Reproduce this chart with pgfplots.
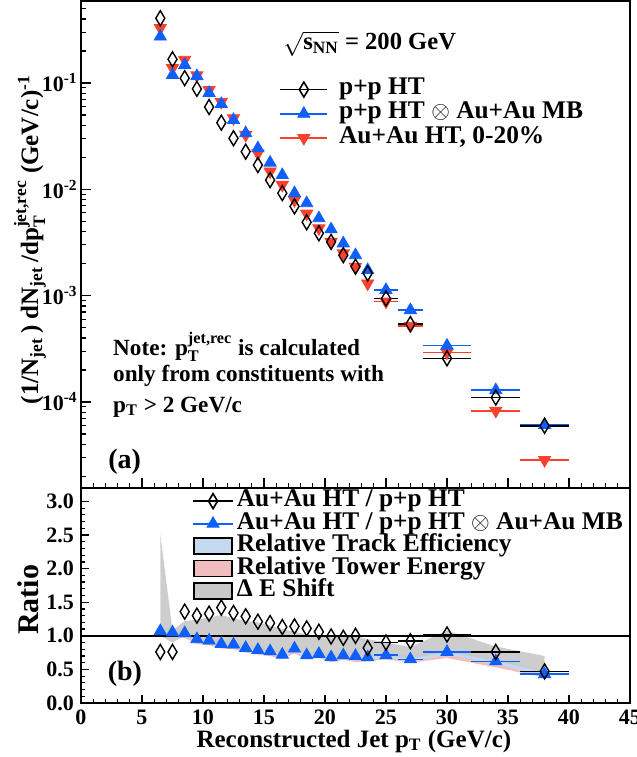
\documentclass[border=0pt]{standalone}
\usepackage{pgfplots}
\pgfplotsset{compat=1.18}
\usepackage{pgfplotstable}
\usepackage{amsmath}
\usepackage{fontspec}
\setmainfont{Liberation Serif}
\definecolor{myblue}{RGB}{15,95,250}
\definecolor{myred}{RGB}{250,65,45}
\definecolor{bandblue}{RGB}{196,216,240}
\definecolor{bandpink}{RGB}{240,190,190}
\definecolor{bandgray}{RGB}{200,200,200}

\pgfplotstableread{
x ex pp ppmb auau
6.5 0 0.406 0.273 0.329
7.5 0 0.167 0.119 0.138
8.5 0 0.111 0.148 0.165
9.5 0 0.088 0.116 0.118
10.5 0 0.0594 0.0805 0.0859
11.5 0 0.0423 0.0634 0.0663
12.5 0 0.0302 0.0449 0.0466
13.5 0 0.0226 0.0337 0.0325
14.5 0 0.0169 0.0243 0.0218
15.5 0 0.0122 0.0178 0.0147
16.5 0 0.0092 0.0136 0.0110
17.5 0 0.0069 0.0092 0.0079
18.5 0 0.0049 0.0074 0.0059
19.5 0 0.00386 0.00534 0.0043
20.5 0 0.0032 0.0042 0.0032
21.5 0 0.0024 0.0031 0.0025
22.5 0 0.00187 0.0024 0.00187
23.5 0 0.00162 0.00174 0.0013
25 1 0.00094 0.00113 0.00088
27 1 0.00054 0.00073 0.00052
30 2 0.000257 0.000338 0.000292
34 2 0.00011 0.000129 0.0000826
38 2 0.0000597 0.0000607 0.0000284
}\spec

\pgfplotstableread{
x ex rpp rmb
6.5 0 0.76 1.07
7.5 0 0.76 1.05
8.5 0 1.36 1.04
9.5 0 1.30 0.95
10.5 0 1.33 0.93
11.5 0 1.42 0.88
12.5 0 1.34 0.87
13.5 0 1.29 0.82
14.5 0 1.21 0.79
15.5 0 1.19 0.77
16.5 0 1.13 0.72
17.5 0 1.14 0.81
18.5 0 1.11 0.71
19.5 0 1.06 0.73
20.5 0 0.99 0.68
21.5 0 0.97 0.71
22.5 0 1.00 0.70
23.5 0 0.82 0.68
25 1 0.90 0.71
27 1 0.92 0.65
30 2 1.02 0.76
34 2 0.76 0.62
38 2 0.47 0.43
}\ratio

\begin{document}
\begin{tikzpicture}
\pgfplotsset{
  every axis/.append style={
    scale only axis, width=274.5pt,
    axis line style={line width=0.8pt},
    every tick/.style={line width=0.6pt, black},
    tick align=inside,
    ticklabel style={font=\bfseries\fontsize{11}{11}\selectfont},
    /pgf/number format/assume math mode=true,
    xmin=0, xmax=45,
    xtick={0,5,...,45}, minor x tick num=4,
    xtick pos=bottom, ytick pos=left,
    clip=false,
  },
  lineleg/.style={legend image code/.code={
      \draw[##1,line width=0.8pt] (0pt,0pt) -- (23.5pt,0pt);
      \draw[##1] plot coordinates {(11.75pt,0pt)};}},
  lineleg2/.style={legend image code/.code={
      \draw[##1,line width=0.8pt] (0pt,0pt) -- (20pt,0pt);
      \draw[##1] plot coordinates {(10pt,0pt)};}},
  boxleg/.style={legend image code/.code={
      \draw[##1,draw=black,line width=0.9pt] (0.3pt,-3.8pt) rectangle (19.5pt,4.2pt);}},
}
\path[use as bounding box] (-40.5pt,-27pt) rectangle (278pt,351.5pt);

% ---------------- top panel ----------------
\begin{axis}[at={(0pt,107.5pt)}, anchor=south west, height=243.5pt,
  ymode=log, ymin=1.55e-5, ymax=0.59,
  xticklabels={},
  major tick length=5pt, minor tick length=2.6pt,
  ytick={1e-4,1e-3,1e-2,1e-1},
  yticklabels={10\textsuperscript{-4},10\textsuperscript{-3},10\textsuperscript{-2},10\textsuperscript{-1}},
  yticklabel style={inner xsep=1.5pt},
  minor ytick={2e-5,3e-5,4e-5,5e-5,6e-5,7e-5,8e-5,9e-5,2e-4,3e-4,4e-4,5e-4,6e-4,7e-4,8e-4,9e-4,2e-3,3e-3,4e-3,5e-3,6e-3,7e-3,8e-3,9e-3,2e-2,3e-2,4e-2,5e-2,6e-2,7e-2,8e-2,9e-2,2e-1,3e-1,4e-1,5e-1},
  ylabel={\bfseries\fontsize{12.5}{12.5}\selectfont (1/N$_{\text{jet}}$\,) dN$_{\text{jet}}$\,/dp$_{\text{T}}^{\text{jet,rec}}$ (GeV/c)$^{\text{-1}}$},
  ylabel style={at={(axis description cs:-0.093,0.51)}, anchor=center},
  legend style={at={(rel axis cs:0.350,0.852)}, anchor=north west, draw=none, fill=none,
    font=\bfseries\fontsize{12.7}{12.7}\selectfont, legend cell align=left,
    nodes={inner xsep=2pt, inner ysep=0pt, text height=8.6pt, text depth=3.5pt},
    /tikz/every odd column/.style={column sep=3.5pt}},
]
\addlegendimage{lineleg, black, mark=diamond, mark size=3.75pt, mark options={xscale=0.8, line width=0.8pt}}
\addlegendentry{p+p HT}
\addlegendimage{lineleg, myblue, mark=triangle*, mark size=3.5pt}
\addlegendentry{p+p HT $\otimes$ Au+Au MB}
\addlegendimage{lineleg, myred, mark=triangle*, mark size=3.5pt, mark options={rotate=180}}
\addlegendentry{Au+Au HT, 0-20\%}

\addplot[only marks, myred, mark=triangle*, mark size=3.5pt, mark options={rotate=180},
  error bars/.cd, x dir=both, x explicit, error mark=none, error bar style={line width=0.8pt}]
  table[x=x, y=auau, x error=ex] {\spec};
\addplot[only marks, myblue, mark=triangle*, mark size=3.5pt,
  error bars/.cd, x dir=both, x explicit, error mark=none, error bar style={line width=0.8pt}]
  table[x=x, y=ppmb, x error=ex] {\spec};
\addplot[only marks, black, mark=diamond, mark size=3.75pt, mark options={xscale=0.8, line width=0.7pt},
  error bars/.cd, x dir=both, x explicit, error mark=none, error bar style={line width=0.8pt}]
  table[x=x, y=pp, x error=ex] {\spec};

\node[anchor=west, inner sep=0pt, font=\bfseries\fontsize{12.3}{12.3}\selectfont] at (rel axis cs:0.368,0.912)
  {$\sqrt{\text{s}_{\text{NN}}}$ = 200 GeV};
\node[anchor=west, inner sep=0pt, font=\bfseries\fontsize{11.6}{11.6}\selectfont] at (rel axis cs:0.058,0.290)
  {Note: p$_{\text{T}}^{\text{jet,rec}}$ is calculated};
\node[anchor=west, inner sep=0pt, font=\bfseries\fontsize{11.6}{11.6}\selectfont] at (rel axis cs:0.058,0.230)
  {only from constituents with};
\node[anchor=west, inner sep=0pt, font=\bfseries\fontsize{11.6}{11.6}\selectfont] at (rel axis cs:0.058,0.166)
  {p$_{\text{T}}$ > 2 GeV/c};
\node[anchor=west, inner sep=0pt, font=\bfseries\fontsize{14}{14}\selectfont] at (rel axis cs:0.049,0.054) {(a)};
\end{axis}

% ---------------- bottom panel ----------------
\begin{axis}[at={(0pt,0pt)}, anchor=south west, height=107.5pt,
  ymin=0, ymax=3.2,
  ytick={0,0.5,...,3.0}, minor y tick num=4,
  major tick length=4pt, minor tick length=2pt,
  yticklabel style={/pgf/number format/.cd, fixed, fixed zerofill, precision=1},
  xlabel={\bfseries\fontsize{12.5}{12.5}\selectfont Reconstructed Jet p$_{\text{T}}$ (GeV/c)},
  xlabel style={at={(axis description cs:0.497,0)}, yshift=-19pt, anchor=center, inner sep=0pt},
  ylabel={\bfseries\fontsize{15}{15}\selectfont Ratio},
  ylabel style={at={(axis description cs:-0.0965,0.48)}, anchor=center},
  legend style={at={(rel axis cs:0.191,1.012)}, anchor=north west, draw=none, fill=none,
    font=\bfseries\fontsize{12.7}{12.7}\selectfont, legend cell align=left,
    nodes={inner xsep=1.5pt, inner ysep=0pt, text height=8.3pt, text depth=3pt},
    /tikz/every odd column/.style={column sep=0pt}},
]
\addlegendimage{lineleg2, black, mark=diamond, mark size=3.75pt, mark options={xscale=0.8, line width=0.8pt}}
\addlegendentry{Au+Au HT / p+p HT}
\addlegendimage{lineleg2, myblue, mark=triangle*, mark size=3.5pt}
\addlegendentry{Au+Au HT / p+p HT $\otimes$ Au+Au MB}
\addlegendimage{boxleg, fill=bandblue}
\addlegendentry{Relative Track Efficiency}
\addlegendimage{boxleg, fill=bandpink}
\addlegendentry{Relative Tower Energy}
\addlegendimage{boxleg, fill=bandgray}
\addlegendentry{Δ E Shift}

% tower energy band
\addplot[forget plot, draw=none, fill=bandpink] coordinates {
(6.5,1.08) (7.5,1.06) (8.5,1.05) (9.5,0.96) (10.5,0.94) (11.5,0.89) (12.5,0.88) (13.5,0.83)
(14.5,0.80) (15.5,0.78) (16.5,0.73) (17.5,0.82) (18.5,0.72) (19.5,0.74) (20.5,0.69) (21.5,0.72)
(22.5,0.71) (23.5,0.69) (25,0.72) (27,0.66) (30,0.77) (34,0.63) (38,0.44)
(38,0.38) (34,0.53) (30,0.67) (27,0.60) (25,0.65) (23.5,0.62) (22.5,0.61) (21.5,0.64)
(20.5,0.61) (19.5,0.67) (18.5,0.65) (17.5,0.74) (16.5,0.65) (15.5,0.70) (14.5,0.72)
(13.5,0.75) (12.5,0.80) (11.5,0.81) (10.5,0.86) (9.5,0.88) (8.5,0.97) (7.5,0.98) (6.5,1.00) } -- cycle;
% track efficiency band
\addplot[forget plot, draw=none, fill=bandblue] coordinates {
(6.5,1.11) (7.5,1.09) (8.5,1.08) (9.5,1.00) (10.5,0.97) (11.5,0.93) (12.5,0.91) (13.5,0.87)
(14.5,0.84) (15.5,0.81) (16.5,0.77) (17.5,0.85) (18.5,0.76) (19.5,0.78) (20.5,0.72) (21.5,0.75)
(22.5,0.74) (23.5,0.72) (25,0.75) (27,0.70) (30,0.80) (34,0.67) (38,0.48)
(38,0.40) (34,0.58) (30,0.72) (27,0.61) (25,0.67) (23.5,0.64) (22.5,0.65) (21.5,0.66)
(20.5,0.63) (19.5,0.69) (18.5,0.67) (17.5,0.77) (16.5,0.68) (15.5,0.73) (14.5,0.75)
(13.5,0.78) (12.5,0.83) (11.5,0.84) (10.5,0.89) (9.5,0.91) (8.5,1.00) (7.5,1.01) (6.5,1.03) } -- cycle;
% Delta E shift band
\addplot[forget plot, draw=none, fill=bandgray, fill opacity=0.9] coordinates {
(6.5,1.0) (6.5,2.52) (7.5,1.08) (8.5,1.22) (9.5,1.24) (10.5,1.27) (11.5,1.31) (12.5,1.26)
(13.5,1.22) (14.5,1.20) (15.5,1.15) (16.5,1.10) (17.5,1.06) (18.5,1.02) (19.5,1.0) (20.5,0.99)
(21.5,0.99) (22.5,1.0) (23.5,0.95) (25,0.90) (27,0.83) (30,1.08) (34,0.84) (38,0.70)
(38,0.46) (34,0.63) (30,0.76) (27,0.66) (25,0.71) (23.5,0.69) (22.5,0.70) (21.5,0.71)
(20.5,0.68) (19.5,0.73) (18.5,0.72) (17.5,0.80) (16.5,0.73) (15.5,0.77) (14.5,0.79)
(13.5,0.82) (12.5,0.86) (11.5,0.88) (10.5,0.92) (9.5,0.95) (8.5,1.0) (7.5,0.90) } -- cycle;

\addplot[forget plot, black, line width=0.8pt] coordinates {(0,1) (45,1)};

\addplot[forget plot, only marks, myblue, mark=triangle*, mark size=3.5pt,
  error bars/.cd, x dir=both, x explicit, error mark=none, error bar style={line width=0.8pt}]
  table[x=x, y=rmb, x error=ex] {\ratio};
\addplot[forget plot, only marks, black, mark=diamond, mark size=3.75pt, mark options={xscale=0.8, line width=0.7pt},
  error bars/.cd, x dir=both, x explicit, error mark=none, error bar style={line width=0.8pt}]
  table[x=x, y=rpp, x error=ex] {\ratio};

\node[anchor=west, inner sep=0pt, font=\bfseries\fontsize{14}{14}\selectfont] at (rel axis cs:0.048,0.135) {(b)};
\end{axis}
\end{tikzpicture}
\end{document}
